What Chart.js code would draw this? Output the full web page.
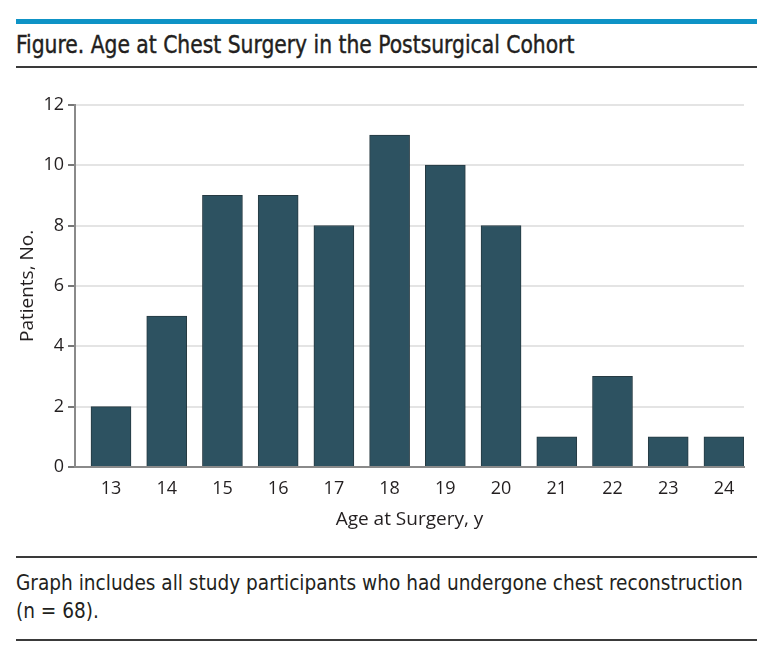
<!DOCTYPE html>
<html>
<head>
<meta charset="utf-8">
<script src="https://cdn.jsdelivr.net/npm/chart.js@4.4.1/dist/chart.umd.min.js"></script>
<style>
  html, body { margin: 0; padding: 0; background: #fff; }
  body { width: 774px; height: 656px; position: relative; overflow: hidden; font-family: "Liberation Sans Narrow", "DejaVu Sans Condensed", sans-serif; color: #231f20; }
  .topbar { position: absolute; left: 16px; top: 19px; width: 741px; height: 5px; background: #0e93c6; }
  .title { position: absolute; left: 16px; top: 31px; font-size: 24px; white-space: nowrap; transform: scaleX(0.94); transform-origin: left top; -webkit-text-stroke: 0.4px #231f20; }
  .rule { position: absolute; left: 16px; width: 741px; height: 2px; background: #3a3a3a; }
  .caption { position: absolute; left: 16px; top: 569px; font-size: 21px; line-height: 28px; white-space: nowrap; transform: scaleX(0.98); transform-origin: left top; }
  #wrap { position: absolute; left: 0; top: 90px; width: 760px; height: 450px; }
</style>
</head>
<body>
<div class="topbar"></div>
<div class="title">Figure. Age at Chest Surgery in the Postsurgical Cohort</div>
<div class="rule" style="top:66px"></div>
<div id="wrap"><canvas id="chart"></canvas></div>
<div class="rule" style="top:556px"></div>
<div class="caption">Graph includes all study participants who had undergone chest reconstruction<br>(n = 68).</div>
<div class="rule" style="top:639px"></div>

<script>
// data
const ages = [13, 14, 15, 16, 17, 18, 19, 20, 21, 22, 23, 24];
const patients = [2, 5, 9, 9, 8, 11, 10, 8, 1, 3, 1, 1];
const yTicks = [0, 2, 4, 6, 8, 10, 12];

const tickFont = { family: '"Open Sans", sans-serif', size: 18 };
const titleFont = { family: '"Open Sans", sans-serif', size: 19 };

new Chart(document.getElementById('chart'), {
  type: 'bar',
  data: {
    datasets: [{
      data: ages.map((a, i) => ({ x: a, y: patients[i] })),
      backgroundColor: '#2d5261',
      borderColor: '#263a42',
      borderWidth: 1,
      barThickness: 40
    }]
  },
  options: {
    responsive: true,
    maintainAspectRatio: false,
    animation: false,
    layout: { padding: { top: 14, right: 16, left: 0, bottom: 0 } },
    plugins: { legend: { display: false }, tooltip: { enabled: false } },
    scales: {
      x: {
        type: 'linear',
        offset: false,
        min: 12.354,
        max: 24.36,
        afterBuildTicks: s => { s.ticks = ages.map(v => ({ value: v })); },
        ticks: { color: '#231f20', font: tickFont, padding: 11, autoSkip: false, maxRotation: 0, callback: v => String(v) },
        grid: { display: false, drawTicks: false, offset: false },
        border: { display: true, color: '#8a8a8a', width: 2 },
        title: { display: true, text: 'Age at Surgery, y', color: '#231f20', font: titleFont, padding: { top: 0, bottom: 9 } },
        afterFit: s => { s.height = 73; }
      },
      y: {
        min: 0,
        max: 12,
        afterBuildTicks: s => { s.ticks = yTicks.map(v => ({ value: v })); },
        ticks: { color: '#231f20', font: tickFont, padding: 4 },
        grid: { color: '#e4e4e4', lineWidth: 2, tickColor: '#777', tickLength: 7, drawTicks: true },
        border: { display: true, color: '#8a8a8a', width: 2 },
        title: { display: true, text: 'Patients, No.', color: '#231f20', font: titleFont, padding: { top: 16, bottom: 0 } },
        afterFit: s => { s.width = 75; }
      }
    }
  }
});
</script>
</body>
</html>
